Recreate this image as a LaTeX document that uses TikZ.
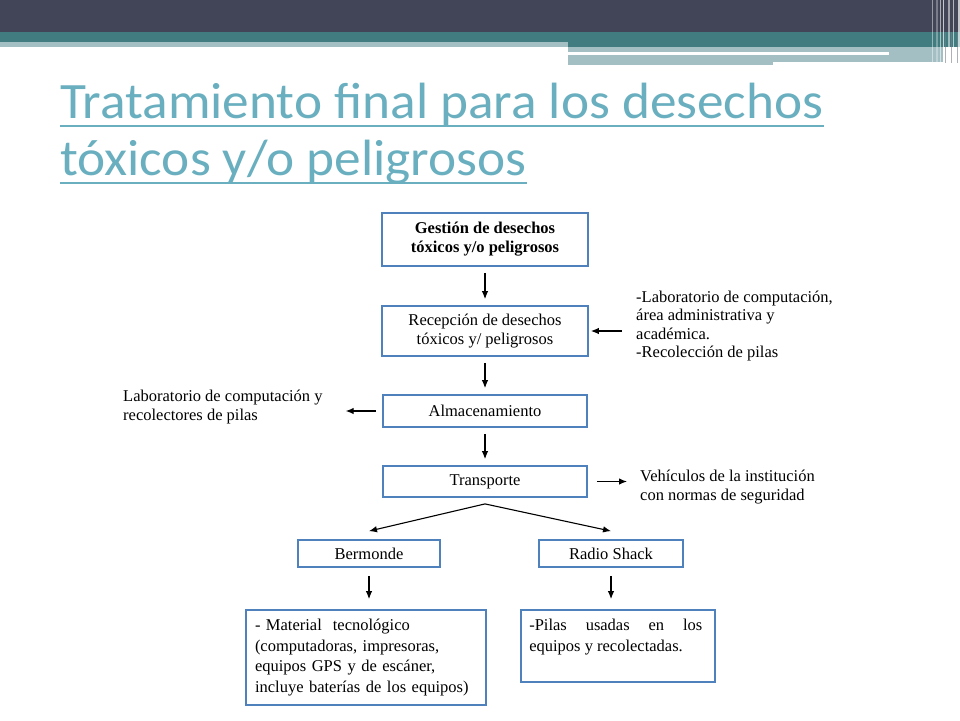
\documentclass[tikz,border=0pt]{standalone}
\usepackage{fontspec}
\setmainfont{Liberation Serif}
\newfontfamily\titlefont[FakeStretch=1.045]{Carlito}
\usepackage{tikz}
\usetikzlibrary{positioning}
\usetikzlibrary{arrows.meta}

\definecolor{banda}{HTML}{424457}
\definecolor{petroleo}{HTML}{417D80}
\definecolor{celeste}{HTML}{A3BFC4}
\definecolor{titulo}{HTML}{6AAFBF}
\definecolor{borde}{HTML}{4F81BD}

\tikzset{>={Latex[length=8pt,width=6.5pt]}}
\tikzset{caja/.style={draw=borde, line width=1.8pt, inner sep=0pt, align=center, font=\fontsize{16.5}{19}\selectfont}}
\tikzset{texto/.style={inner sep=0pt, align=left, font=\fontsize{16.5}{18.5}\selectfont}}
\tikzset{flecha/.style={->, line width=1.1pt, shorten <=6pt, shorten >=6pt}}

\begin{document}
\begin{tikzpicture}[x=1pt,y=-1pt]
\useasboundingbox (0,0) rectangle (960,720);
% banda de arriba
\fill[banda] (0,0) rectangle (960,32);
\fill[petroleo] (0,32) rectangle (960,47);
\fill[celeste] (0,42) rectangle (568,47);
\fill[celeste] (568,47) rectangle (943,62);
\fill[celeste] (568,62) rectangle (773,65);
\fill[white] (568,51.5) rectangle (889,54.5);
\foreach \sx/\sw/\so in {932/1/.45, 935.5/2.5/.3, 940/1/.55, 942.5/1.2/.7, 947.5/2/.5, 952.5/1.5/.6, 958/2/.7} {
\fill[white, opacity=\so] (\sx,0) rectangle ++(\sw,63);
}
\foreach \sx in {945, 950.5, 956.5} {
\fill[banda!70, opacity=.6] (\sx,32) rectangle ++(1,31);
}

% titulo
\node[anchor=base west, inner sep=0pt, text=titulo, font=\titlefont\fontsize{51}{55}\selectfont] (tituloA) at (60,118) {Tratamiento final para los desechos};
\node[anchor=base west, inner sep=0pt, text=titulo, font=\titlefont\fontsize{51}{55}\selectfont] (tituloB) at (60,175) {tóxicos y/o peligrosos};
\draw[titulo, line width=2.5pt] ([yshift=-8pt]tituloA.base west) -- ([yshift=-8pt]tituloA.base east);
\draw[titulo, line width=2.5pt] ([yshift=-8pt]tituloB.base west) -- ([yshift=-8pt]tituloB.base east);

% cajas
\node[caja, minimum width=206, minimum height=53, font=\bfseries\fontsize{16.5}{19}\selectfont] (gestion) at (485,239.5) {Gestión de desechos\\tóxicos y/o peligrosos};
\node[caja, minimum width=206, minimum height=50] (recepcion) at (485,331) {Recepción de desechos\\tóxicos y/ peligrosos};
\node[caja, minimum width=204, minimum height=32] (almacen) at (485,411) {Almacenamiento};
\node[caja, minimum width=204, minimum height=31] (transporte) at (485,481.5) {Transporte};
\node[caja, minimum width=142, minimum height=27] (bermonde) at (369,553.5) {Bermonde};
\node[caja, minimum width=144, minimum height=27] (radio) at (611,553.5) {Radio Shack};
\node[caja, minimum width=240, minimum height=95, text width=222, align=left, font=\fontsize{16.5}{20.5}\selectfont] (material) at (366,657.5) {- Material\ \ tecnológico\\(computadoras, impresoras,\\equipos GPS y de escáner,\\incluye baterías de los equipos)};
\node[caja, minimum width=194, minimum height=72] (pilas) at (618,646) {};
\node[texto, anchor=north west, font=\fontsize{16.5}{20.5}\selectfont] (pilasTxt) at ([xshift=9pt,yshift=-10pt]pilas.north west) {\makebox[173pt][s]{-Pilas usadas en los}\\equipos y recolectadas.};

% textos al costado
\node[texto, anchor=west] (recepTxt) at (636,326) {-Laboratorio de computación,\\área administrativa y\\académica.\\-Recolección de pilas};
\node[texto, anchor=west, font=\fontsize{16.5}{19.5}\selectfont] (labTxt) at (123,407) {Laboratorio de computación y\\recolectores de pilas};
\node[texto, anchor=west, font=\fontsize{16.5}{19.5}\selectfont] (vehiTxt) at (640,487) {Vehículos de la institución\\con normas de seguridad};

% flechas
\draw[flecha] (gestion) -- (recepcion);
\draw[flecha] (recepcion) -- (almacen);
\draw[flecha] (almacen) -- (transporte);
\draw[flecha, shorten <=14pt, shorten >=2pt] (recepTxt.west |- recepcion.east) -- (recepcion.east);
\draw[flecha, shorten >=23pt] (almacen.west) -- (almacen.west -| labTxt.east);
\draw[flecha, shorten <=9pt, shorten >=13pt] (transporte.east) -- (transporte.east -| vehiTxt.west);
\draw[flecha, shorten <=0pt, shorten >=0pt] ([yshift=-6pt]transporte.south) -- ([yshift=8pt]bermonde.north);
\draw[flecha, shorten <=0pt, shorten >=0pt] ([yshift=-6pt]transporte.south) -- ([yshift=8pt]radio.north);
\draw[flecha, shorten <=8pt, shorten >=10pt] (bermonde.south) -- (bermonde.south |- material.north);
\draw[flecha, shorten <=8pt, shorten >=10pt] (radio.south) -- (radio.south |- pilas.north);
\end{tikzpicture}
\end{document}
